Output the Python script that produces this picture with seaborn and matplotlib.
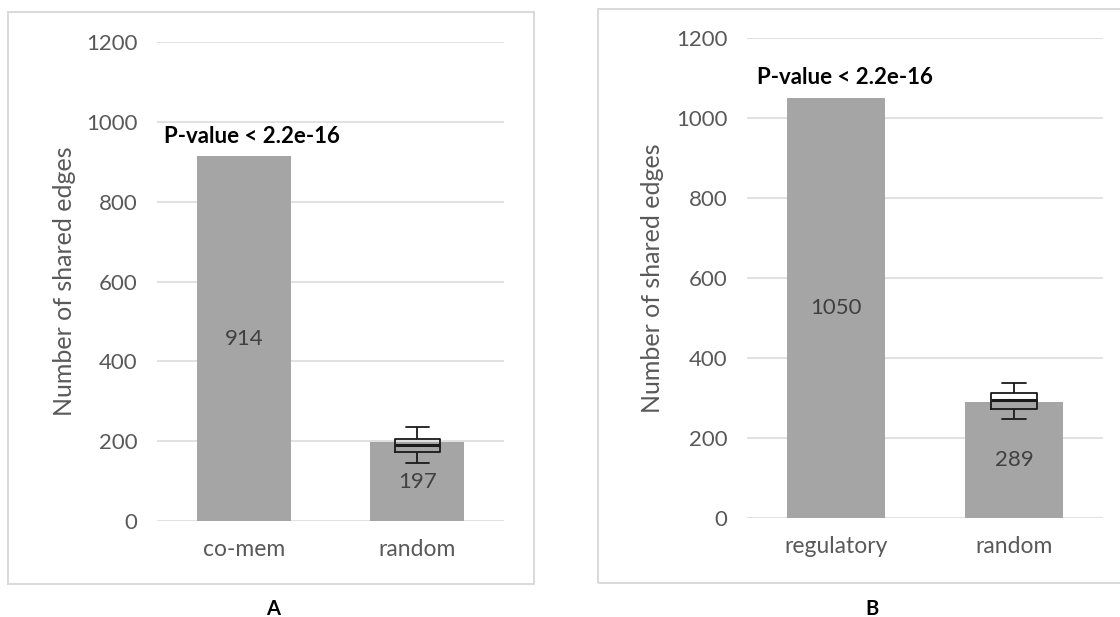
import matplotlib
matplotlib.use("Agg")
import matplotlib.pyplot as plt
from matplotlib.patches import Rectangle
import seaborn as sns

# Panel A: co-membership edges vs. random networks
panel_a_categories = ["co-mem", "random"]
panel_a_values = [914, 197]
# five-number summary of the random-network runs (min, Q1, median, Q3, max)
panel_a_random_summary = [145, 172, 191, 205, 235]

# Panel B: regulatory edges vs. random networks
panel_b_categories = ["regulatory", "random"]
panel_b_values = [1050, 289]
panel_b_random_summary = [247, 272, 296, 312, 337]

y_ticks = [0, 200, 400, 600, 800, 1000, 1200]
y_label = "Number of shared edges"
p_value_text = "P-value < 2.2e-16"
panel_letters = ["A", "B"]

BAR_GREY = "#A5A5A5"
GRID_GREY = "#D9D9D9"
TICK_GREY = "#595959"
VALUE_GREY = "#404040"

sns.set_theme(style="white")
plt.rcParams["font.family"] = ["Lato", "DejaVu Sans"]

fig = plt.figure(figsize=(11.2, 6.17), dpi=100)
W, H = 1120, 617


def fig_rect(x0, y0, x1, y1):
    """Pixel box (top-left origin) -> figure fraction [left, bottom, w, h]."""
    return [x0 / W, 1 - y1 / H, (x1 - x0) / W, (y1 - y0) / H]


# light outer frames around each panel
for (x0, y0, x1, y1) in [(8, 12, 534, 584), (598, 9, 1126, 583)]:
    l, b, w, h = fig_rect(x0, y0, x1, y1)
    fig.patches.append(Rectangle((l, b), w, h, transform=fig.transFigure,
                                 fill=False, edgecolor=GRID_GREY, linewidth=1.4,
                                 zorder=0))

panels = [
    (fig_rect(157, 42, 504, 521), panel_a_categories, panel_a_values,
     panel_a_random_summary, 0.54, 273),
    (fig_rect(747, 38, 1103, 518), panel_b_categories, panel_b_values,
     panel_b_random_summary, 0.55, 872),
]

for (rect, cats, vals, summary, bar_w, letter_x), letter in zip(panels, panel_letters):
    ax = fig.add_axes(rect)
    sns.barplot(x=cats, y=vals, order=cats, color=BAR_GREY, saturation=1,
                width=bar_w, linewidth=0, ax=ax, zorder=2)
    sns.boxplot(x=[cats[1]] * len(summary), y=summary, order=cats,
                width=0.26, fill=False, color="#1a1a1a", linewidth=1.3,
                whis=1.5, showfliers=False, ax=ax, zorder=3,
                medianprops={"linewidth": 2.2})

    ax.set_ylim(0, 1200)
    ax.set_xlim(-0.5, 1.5)
    ax.set_yticks(y_ticks)
    ax.set_yticklabels([str(t) for t in y_ticks])
    ax.yaxis.grid(True, color=GRID_GREY, linewidth=1.1, zorder=0)
    ax.xaxis.grid(False)
    ax.set_axisbelow(True)
    for s in ax.spines.values():
        s.set_visible(False)
    ax.tick_params(axis="y", length=0, labelsize=16, labelcolor=TICK_GREY, pad=14)
    ax.tick_params(axis="x", length=0, labelsize=16.5, labelcolor=TICK_GREY, pad=13)
    ax.set_xlabel("")
    ax.set_ylabel(y_label, fontsize=18, color=TICK_GREY)
    ax.yaxis.set_label_coords(-0.232, 0.5)

    # value labels centred inside each bar
    for i, v in enumerate(vals):
        ax.text(i, v / 2, f"{v}", ha="center", va="center",
                fontsize=16, color=VALUE_GREY, zorder=4)

    # significance note above the first bar
    ax.text(0.05, vals[0] + 50, p_value_text, ha="center", va="center",
            fontsize=16, fontweight="bold", color="black", zorder=4)

    fig.text(letter_x / W, 1 - 609 / H, letter, ha="center", va="center",
             fontsize=14.5, fontweight="bold", color="black")

fig.savefig("out.png", dpi=100, facecolor="white")
